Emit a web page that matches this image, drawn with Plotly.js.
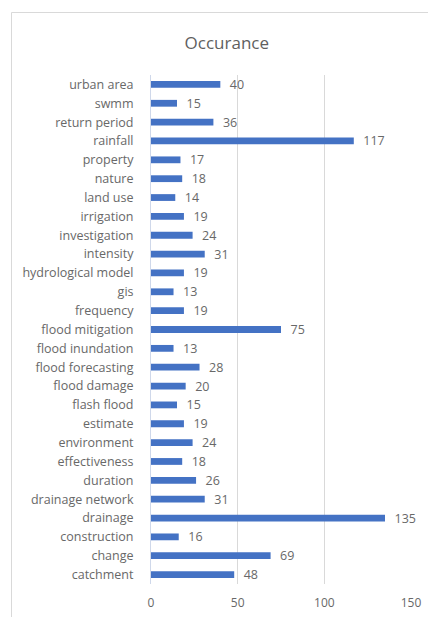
<!DOCTYPE html>
<html>
<head>
<meta charset="utf-8">
<script src="https://cdn.plot.ly/plotly-3.0.1.min.js"></script>
<style>html,body{margin:0;padding:0;background:#fff;}#chart{width:428px;height:617px;}</style>
</head>
<body>
<div id="chart"></div>
<script>
const categories = ["catchment","change","construction","drainage","drainage network","duration","effectiveness","environment","estimate","flash flood","flood damage","flood forecasting","flood inundation","flood mitigation","frequency","gis","hydrological model","intensity","investigation","irrigation","land use","nature","property","rainfall","return period","swmm","urban area"];
const occurrences = [48,69,16,135,31,26,18,24,19,15,20,28,13,75,19,13,19,31,24,19,14,18,17,117,36,15,40];
const xTicks = [0,50,100,150];
const chartTitle = "Occurance";

const grey = "#686868";
const trace = {
  type: "bar",
  orientation: "h",
  x: occurrences,
  y: categories,
  marker: {color: "#4472C4"},
  text: occurrences.map(String),
  texttemplate: "  %{text}",
  textposition: "outside",
  constraintext: "none",
  cliponaxis: false,
  textfont: {family: "Open Sans, sans-serif", size: 12.5, color: grey},
  hoverinfo: "none"
};
const layout = {
  width: 428, height: 617,
  margin: {l: 151, r: 17, t: 75, b: 33},
  paper_bgcolor: "#fff", plot_bgcolor: "#fff",
  showlegend: false,
  bargap: 0.64,
  title: {text: chartTitle, x: 0.53, xref: "container", y: 0.931, yanchor: "middle",
          font: {family: "Open Sans, sans-serif", size: 17, color: "#5f5f5f"}},
  xaxis: {range: [0, 150], tickvals: xTicks, ticktext: xTicks.map(String),
          showgrid: true, gridcolor: "#d9d9d9", gridwidth: 1, zeroline: false,
          showline: false, ticks: "", ticklabelstandoff: 10,
          tickfont: {family: "Open Sans, sans-serif", size: 12, color: grey}, fixedrange: true},
  yaxis: {type: "category", categoryorder: "array", categoryarray: categories,
          showgrid: false, zeroline: false, showline: true, linecolor: "#cfd8ea", linewidth: 1,
          ticks: "", ticklabelstandoff: 14,
          tickfont: {family: "Open Sans, sans-serif", size: 12.5, color: grey}, fixedrange: true},
  shapes: [{type: "rect", xref: "paper", yref: "paper",
            x0: (11.5 - 151) / 260, x1: (440 - 151) / 260,
            y0: (584 - 640) / 509, y1: (584 - 12.5) / 509,
            line: {color: "#d9d9d9", width: 1}, fillcolor: "rgba(0,0,0,0)", layer: "below"}]
};
Plotly.newPlot("chart", [trace], layout, {displayModeBar: false, staticPlot: true});
</script>
</body>
</html>
